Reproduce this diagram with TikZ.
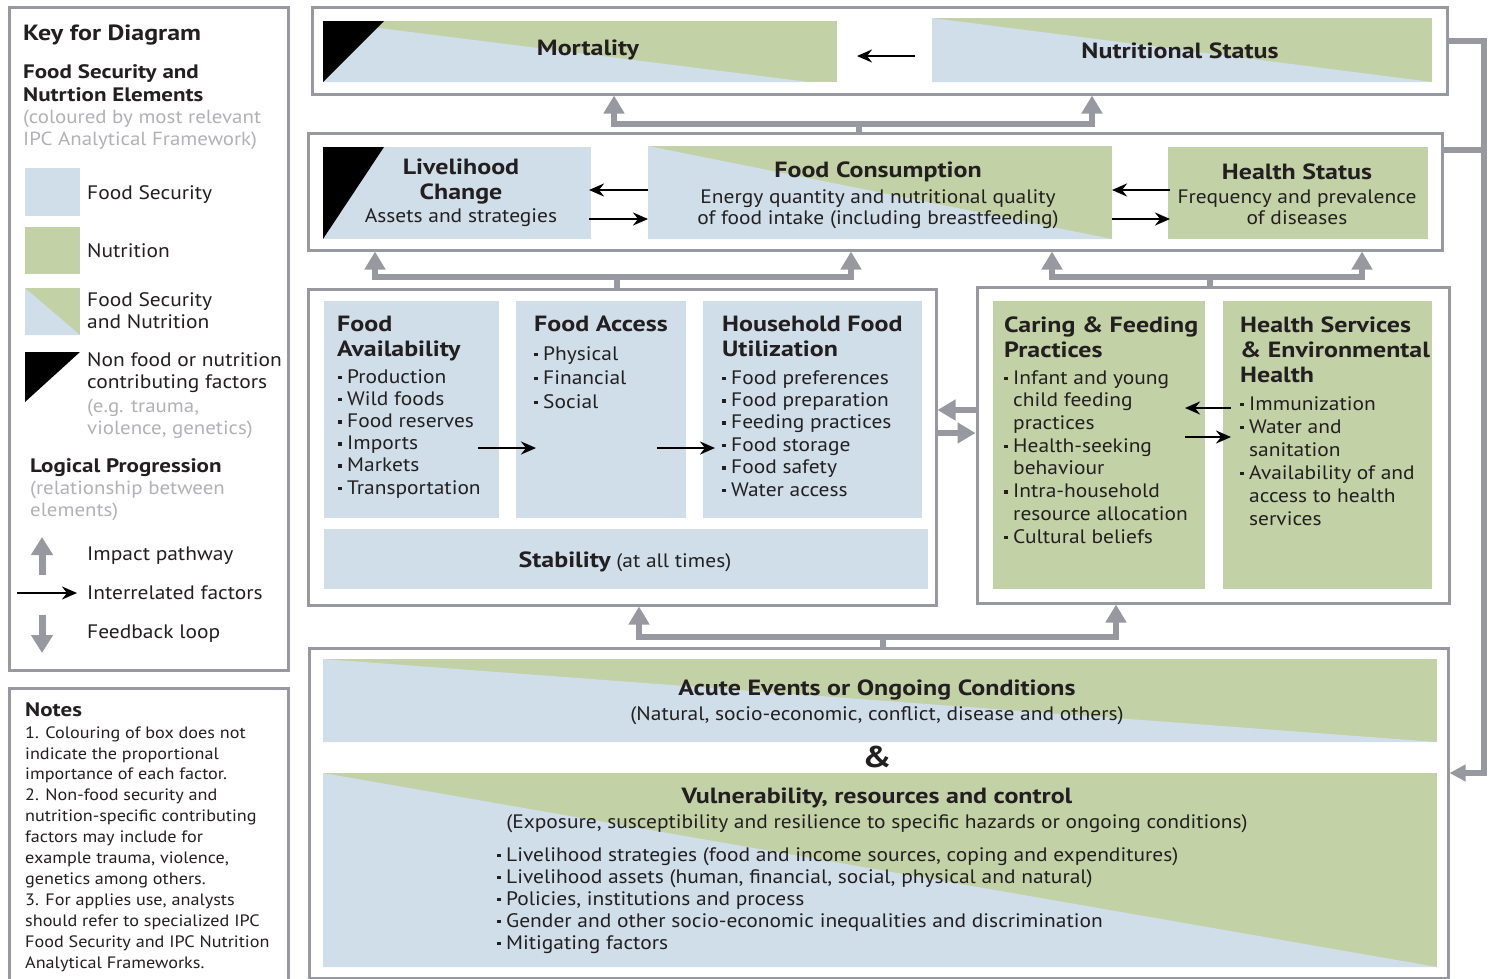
\documentclass[tikz,border=0pt]{standalone}
\usepackage{fontspec}
\setmainfont{PT Sans}[UprightFeatures={FakeStretch=1.10}, BoldFeatures={FakeStretch=1.18}]
\usetikzlibrary{arrows.meta, calc}

\definecolor{fsblue}{RGB}{207,222,232}
\definecolor{ngreen}{RGB}{195,209,167}
\definecolor{fgray}{RGB}{152,153,160}
\definecolor{ltext}{RGB}{178,178,182}
\definecolor{dtext}{RGB}{35,31,32}

% small square bullet and hanging indent for the lists
\newcommand\itm{\raisebox{0.2em}{\rule{3.5pt}{3.5pt}}\hspace{5.5pt}}
\newcommand\ind{\hspace*{9pt}}

\begin{document}
\begin{tikzpicture}[x=1pt, y=-1pt, line join=miter,
    panel/.style={rectangle, draw=fgray, line width=3pt, fill=white, inner sep=0pt, outer sep=0pt, anchor=north west},
    blk/.style={rectangle, inner sep=0pt, outer sep=0pt, anchor=north west},
    fsn/.style={fill=ngreen, path picture={\fill[fsblue] (path picture bounding box.north west) -- ([xshift=-#1]path picture bounding box.south east) -- (path picture bounding box.south west) -- cycle;}},
    fsn/.default=0pt,
    hd/.style={font=\bfseries\fontsize{22}{25}\selectfont, text=dtext, inner sep=0pt, align=center},
    tx/.style={font=\fontsize{19.5}{21}\selectfont, text=dtext, inner sep=0pt, align=center},
    lst/.style={font=\fontsize{19.5}{22.5}\selectfont, text=dtext, inner sep=0pt, anchor=base west, align=left},
    ttl/.style={hd, anchor=base west, align=left},
    gtx/.style={font=\fontsize{19}{22.5}\selectfont, text=ltext, inner sep=0pt, anchor=base west, align=left},
    gtip/.tip={Triangle[width=20pt,length=18pt]},
    btip/.tip={Stealth[length=15pt,width=13pt,inset=5pt]},
    imp/.style={draw=fgray, line width=5.5pt, -gtip},
    impboth/.style={draw=fgray, line width=5.5pt, gtip-gtip},
    impline/.style={draw=fgray, line width=5.5pt},
    inter/.style={draw=black, line width=2.6pt, -btip}]

    \useasboundingbox (0,0) rectangle (1496,978);

    % ---------------- key ----------------
    % (multi-line nodes: base west sits on the LAST line)
    \node[panel, minimum width=279, minimum height=663] (key) at (9,7) {};
    \node[ttl, font=\bfseries\fontsize{22}{24}\selectfont] (key-t) at (23,40) {Key for Diagram};
    \node[ttl, font=\bfseries\fontsize{19.5}{23}\selectfont] (key-fs) at (23,101) {Food Security and\\Nutrtion Elements};
    \node[gtx] (key-cl) at (23,145.5) {(coloured by most relevant\\IPC Analytical Framework)};

    % colour swatches
    \node[blk, fill=fsblue, minimum width=55, minimum height=48] (sw-fs) at (25,168) {};
    \node[blk, fill=ngreen, minimum width=55, minimum height=47] (sw-nu) at (25,227) {};
    \node[blk, fsn, minimum width=55, minimum height=47] (sw-fsn) at (25,288) {};
    \node[blk, minimum width=55, minimum height=50] (sw-nf) at (25,352) {};
    \fill (sw-nf.north west) -- (sw-nf.north east) -- (sw-nf.south west) -- cycle;

    \node[lst] (lb-fs) at (87,199) {Food Security};
    \node[lst] (lb-nu) at (87,257) {Nutrition};
    \node[lst] (lb-fsn) at (87,328.5) {Food Security\\and Nutrition};
    \node[lst] (lb-nf) at (87,388.5) {Non food or nutrition\\contributing factors};
    \node[gtx] (lb-eg) at (87,434.5) {(e.g. trauma,\\violence, genetics)};

    \node[ttl, font=\bfseries\fontsize{19.5}{23}\selectfont] (key-lp) at (30,472) {Logical Progression};
    \node[gtx] (key-rel) at (30,516.5) {(relationship between\\elements)};

    % legend arrows
    \coordinate (ip-a) at (42,575);
    \coordinate (ip-b) at (42,537);
    \coordinate (ir-a) at (17,593);
    \coordinate (ir-b) at (77,593);
    \coordinate (fl-a) at (42,615);
    \coordinate (fl-b) at (42,653);
    \draw[imp, line width=7pt, -{Triangle[width=21pt,length=18pt]}] (ip-a) -- (ip-b);
    \draw[inter] (ir-a) -- (ir-b);
    \draw[imp, line width=7pt, -{Triangle[width=21pt,length=18pt]}] (fl-a) -- (fl-b);
    \node[lst] (lb-ip) at (87,560) {Impact pathway};
    \node[lst] (lb-ir) at (87,599) {Interrelated factors};
    \node[lst] (lb-fl) at (87,638) {Feedback loop};

    % ---------------- notes ----------------
    \node[panel, minimum width=279, minimum height=300] (notes) at (9,688) {};
    \node[ttl, font=\bfseries\fontsize{19.5}{22}\selectfont] (notes-t) at (25,716) {Notes};
    \node[lst, font=\fontsize{16.5}{20.9}\selectfont] (notes-l) at (25,968) {1. Colouring of box does not\\indicate the proportional\\importance of each factor.\\2. Non-food security and\\nutrition-specific contributing\\factors may include for\\example trauma, violence,\\genetics among others.\\3. For applies use, analysts\\should refer to specialized IPC\\Food Security and IPC Nutrition\\Analytical Frameworks.};

    % ---------------- outer panels ----------------
    \node[panel, minimum width=1135, minimum height=87] (row1) at (312,7) {};
    \node[panel, minimum width=1134, minimum height=117] (row2) at (308,133) {};
    \node[panel, minimum width=628, minimum height=316] (row3l) at (308,289) {};
    \node[panel, minimum width=472, minimum height=316] (row3r) at (977,287) {};
    \node[panel, minimum width=1139, minimum height=330] (row4) at (309,648) {};

    % ---------------- outcomes ----------------
    \node[blk, fsn=28, minimum width=514, minimum height=61] (mort) at (323,21) {};
    \fill (mort.north west) -- ++(61,0) -- (mort.south west) -- cycle;
    \node[hd] (mort-t) at (588,50) {Mortality};
    \node[blk, fsn, minimum width=500, minimum height=64] (nstat) at (932,18) {};
    \node[hd] (nstat-t) at (1180,51) {Nutritional Status};
    \draw[inter] ($(nstat.west)+(-17,6)$) -- ($(nstat.west -| mort.east)+(20,6)$);

    % ---------------- contributing factors, level 1 ----------------
    \node[blk, fill=fsblue, minimum width=268, minimum height=92] (lc) at (323,147) {};
    \fill (lc.north west) -- ++(61,0) -- (lc.south west) -- cycle;
    \node[hd] (lc-t) at (461,182) {Livelihood\\Change};
    \node[tx] (lc-s) at (461,218) {Assets and strategies};

    \node[blk, fsn, minimum width=464, minimum height=93] (fc) at (648,146) {};
    \node[hd] (fc-t) at (878,172) {Food Consumption};
    \node[tx] (fc-s) at (878,209) {Energy quantity and nutritional quality\\of food intake (including breastfeeding)};

    \node[blk, fill=ngreen, minimum width=260, minimum height=92] (hs) at (1168,147) {};
    \node[hd] (hs-t) at (1297,172) {Health Status};
    \node[tx] (hs-s) at (1297,207) {Frequency and prevalence\\of diseases};

    \draw[inter] ($(fc.west)+(0,-2.5)$) -- ($(fc.west -| lc.east)+(-2,-2.5)$);
    \draw[inter] ($(fc.west -| lc.east)+(-2,26.5)$) -- ($(fc.west)+(0,26.5)$);
    \draw[inter] ($(fc.east -| hs.west)+(2,-2.5)$) -- ($(fc.east)+(0,-2.5)$);
    \draw[inter] ($(fc.east)+(0,26.5)$) -- ($(fc.east -| hs.west)+(2,26.5)$);

    % ---------------- food security dimensions ----------------
    \node[blk, fill=fsblue, minimum width=175, minimum height=217] (favail) at (324,301) {};
    \node[blk, fill=fsblue, minimum width=170, minimum height=217] (faccess) at (516,301) {};
    \node[blk, fill=fsblue, minimum width=219, minimum height=217] (hfu) at (703,301) {};
    \node[blk, fill=fsblue, minimum width=604, minimum height=60] (stab) at (324,529) {};

    \node[ttl] (favail-t) at (337,356) {Food\\Availability};
    \node[lst, font=\fontsize{19.5}{22.2}\selectfont] (favail-l) at (338,494) {\itm Production\\\itm Wild foods\\\itm Food reserves\\\itm Imports\\\itm Markets\\\itm Transportation};
    \node[ttl] (faccess-t) at (534,331) {Food Access};
    \node[lst, font=\fontsize{19.5}{24}\selectfont] (faccess-l) at (534,408) {\itm Physical\\\itm Financial\\\itm Social};
    \node[ttl] (hfu-t) at (722,356) {Household Food\\Utilization};
    \node[lst, font=\fontsize{19.5}{22.4}\selectfont] (hfu-l) at (722,496) {\itm Food preferences\\\itm Food preparation\\\itm Feeding practices\\\itm Food storage\\\itm Food safety\\\itm Water access};
    \node[tx] (stab-t) at (625,562) {{\bfseries\fontsize{22}{25}\selectfont Stability} (at all times)};

    \draw[inter] ($(favail.east)+(-21,38.5)$) -- ($(favail.east -| faccess.west)+(20,38.5)$);
    \draw[inter] ($(faccess.east)+(-29,38.5)$) -- ($(faccess.east -| hfu.west)+(12,38.5)$);

    % ---------------- nutrition factors ----------------
    \node[blk, fill=ngreen, minimum width=212, minimum height=288] (cfp) at (993,301) {};
    \node[blk, fill=ngreen, minimum width=209, minimum height=288] (hseh) at (1223,301) {};

    \node[ttl] (cfp-t) at (1004,357) {Caring \& Feeding\\Practices};
    \node[lst, font=\fontsize{19.5}{22.7}\selectfont] (cfp-l) at (1004,543) {\itm Infant and young\\\ind child feeding\\\ind practices\\\itm Health-seeking\\\ind behaviour\\\itm Intra-household\\\ind resource allocation\\\itm Cultural beliefs};
    \node[ttl] (hseh-t) at (1240,382) {Health Services\\\& Environmental\\Health};
    \node[lst, font=\fontsize{19.5}{23}\selectfont] (hseh-l) at (1240,525) {\itm Immunization\\\itm Water and\\\ind sanitation\\\itm Availability of and\\\ind access to health\\\ind services};

    \draw[inter] ($(hseh.west)+(8,-37)$) -- ($(cfp.east)+(-20,-37)$);
    \draw[inter] ($(cfp.east)+(-20,-8)$) -- ($(hseh.west)+(8,-8)$);

    % gray links between the two middle panels
    \draw[imp] ($(row3r.west)+(-1.5,-35)$) -- ($(row3r.west -| row3l.east)+(1.5,-35)$);
    \draw[imp] ($(row3r.west -| row3l.east)+(1.5,-12)$) -- ($(row3r.west)+(-1.5,-12)$);

    % ---------------- causes ----------------
    \node[blk, fsn, minimum width=1114, minimum height=83] (acute) at (323,659) {};
    \node[hd] (acute-t) at (877,690) {Acute Events or Ongoing Conditions};
    \node[tx] (acute-s) at (877,716) {(Natural, socio-economic, conflict, disease and others)};
    \node[font=\bfseries\fontsize{30}{32}\selectfont, text=dtext, inner sep=0pt] (amp) at (877,757) {\&};
    \node[blk, fsn, minimum width=1114, minimum height=194] (vuln) at (323,773) {};
    \node[hd] (vuln-t) at (877,798) {Vulnerability, resources and control};
    \node[tx] (vuln-s) at (877,824) {(Exposure, susceptibility and resilience to specific hazards or ongoing conditions)};
    \node[lst, font=\fontsize{19.5}{22}\selectfont] (vuln-l) at (497,949) {\itm Livelihood strategies (food and income sources, coping and expenditures)\\\itm Livelihood assets (human, financial, social, physical and natural)\\\itm Policies, institutions and process\\\itm Gender and other socio-economic inequalities and discrimination\\\itm Mitigating factors};

    % ---------------- impact pathways ----------------
    \coordinate (j1) at (859,124);
    \draw[impboth] ($(row1.south west)+(302,1.5)$) |- (j1) -| ($(row1.south west)+(780,1.5)$);
    \draw[impline] (j1) -- (j1 |- row2.north);

    \coordinate (j2) at (617,277);
    \draw[impboth] ($(row2.south west)+(67,1.5)$) |- (j2) -| ($(row2.south west)+(543,1.5)$);
    \draw[impline] (j2) -- (j2 |- row3l.north);

    \coordinate (j3) at (1210,277);
    \draw[impboth] ($(row2.south west)+(744,1.5)$) |- (j3) -| ($(row2.south west)+(1054,1.5)$);
    \draw[impline] (j3) -- (j3 |- row3r.north);

    \coordinate (j4) at (883,637);
    \draw[impboth] ($(row3l.south west)+(331,1.5)$) |- (j4) -| ($(row3r.south west)+(139,1.5)$);
    \draw[impline] (j4) -- (j4 |- row4.north);

    % ---------------- feedback loop ----------------
    \coordinate (fbtop) at (1484,41);
    \coordinate (fbbot) at (1484,773);
    \draw[imp, -{Triangle[width=16pt,length=16pt]}] ($(row1.north east)+(1.5,34)$) -- (fbtop) -- (fbbot) -- ($(fbbot -| row4.east)+(1.5,0)$);
    \draw[impline] ($(row2.north east)+(1.5,17)$) -- ($(fbtop |- row2.north east)+(0,17)$);

\end{tikzpicture}
\end{document}
